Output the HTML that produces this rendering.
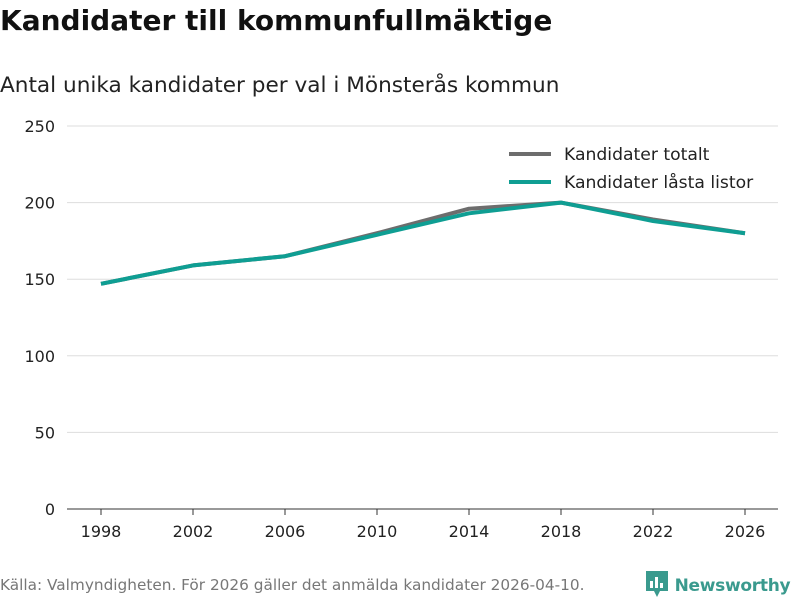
<!DOCTYPE html>
<html><head><meta charset="utf-8"><style>
body{margin:0;width:800px;height:600px;background:#fff;font-family:"DejaVu Sans","Liberation Sans",sans-serif;overflow:hidden;position:relative}
.t{position:absolute;white-space:nowrap}
</style></head><body>
<div class="t" style="left:0;top:4px;font-size:28px;font-weight:bold;color:#111">Kandidater till kommunfullmäktige</div>
<div class="t" style="left:0;top:73px;font-size:21.6px;color:#222">Antal unika kandidater per val i Mönsterås kommun</div>
<svg id="c" width="800" height="600" style="position:absolute;left:0;top:0"></svg>
<div class="t" style="left:0;top:576px;font-size:15.3px;color:#777">Källa: Valmyndigheten. För 2026 gäller det anmälda kandidater 2026-04-10.</div>
<div class="t" style="left:645px;top:570px;font-size:17px;font-weight:bold;color:#3a9a8e;letter-spacing:-0.3px">
<svg width="24" height="28" style="vertical-align:-7px"><path d="M1 1h22v20h-8l-3 6-3-6H1z" fill="#3a9a8e"/><rect x="5" y="11" width="3" height="7" fill="#fff"/><rect x="10" y="7" width="3" height="11" fill="#fff"/><rect x="15" y="13" width="3" height="5" fill="#fff"/></svg> Newsworthy</div>
<script>
const years=[1998,2002,2006,2010,2014,2018,2022,2026];
const totalt=[147,159,165,180,196,200,189,180];
const lasta=[147,159,165,179,193,200,188,180];
const yTicks=[0,50,100,150,200,250];
const svg=document.getElementById('c');const NS='http://www.w3.org/2000/svg';
const x=v=>101+(v-1998)*23;const y=v=>509-v*383/250;
function el(t,a){const e=document.createElementNS(NS,t);for(const k in a)e.setAttribute(k,a[k]);svg.appendChild(e);return e;}
yTicks.forEach(v=>{
 const l=el('line',{x1:67,x2:778,y1:y(v),y2:y(v),stroke:v?'#ddd':'#333','stroke-width':1});
 
 
 const t=el('text',{x:55,y:y(v)+6,'text-anchor':'end','font-size':16,fill:'#222'});t.textContent=v;
 
 
});
years.forEach(v=>{
 const l=el('line',{x1:x(v),x2:x(v),y1:509,y2:515,stroke:'#333'});
 
 
 const t=el('text',{x:x(v),y:537,'text-anchor':'middle','font-size':16,fill:'#222'});t.textContent=v;
 
 
});
[[totalt,'#6d6d6d','series-totalt'],[lasta,'#0f9e93','series-lasta-listor']].forEach(([d,c,n])=>{
 const p=el('polyline',{points:d.map((v,i)=>x(years[i])+','+y(v)).join(' '),fill:'none',stroke:c,'stroke-width':4,'stroke-linejoin':'round'});
 
 
});
[['Kandidater totalt','#6d6d6d',154],['Kandidater låsta listor','#0f9e93',182]].forEach(([s,c,yy],i)=>{
 const l=el('line',{x1:509,x2:551,y1:yy,y2:yy,stroke:c,'stroke-width':4});
 
 
 const t=el('text',{x:564,y:yy+6,'font-size':17.2,fill:'#222'});t.textContent=s;
 
 
});
</script>
</body></html>
